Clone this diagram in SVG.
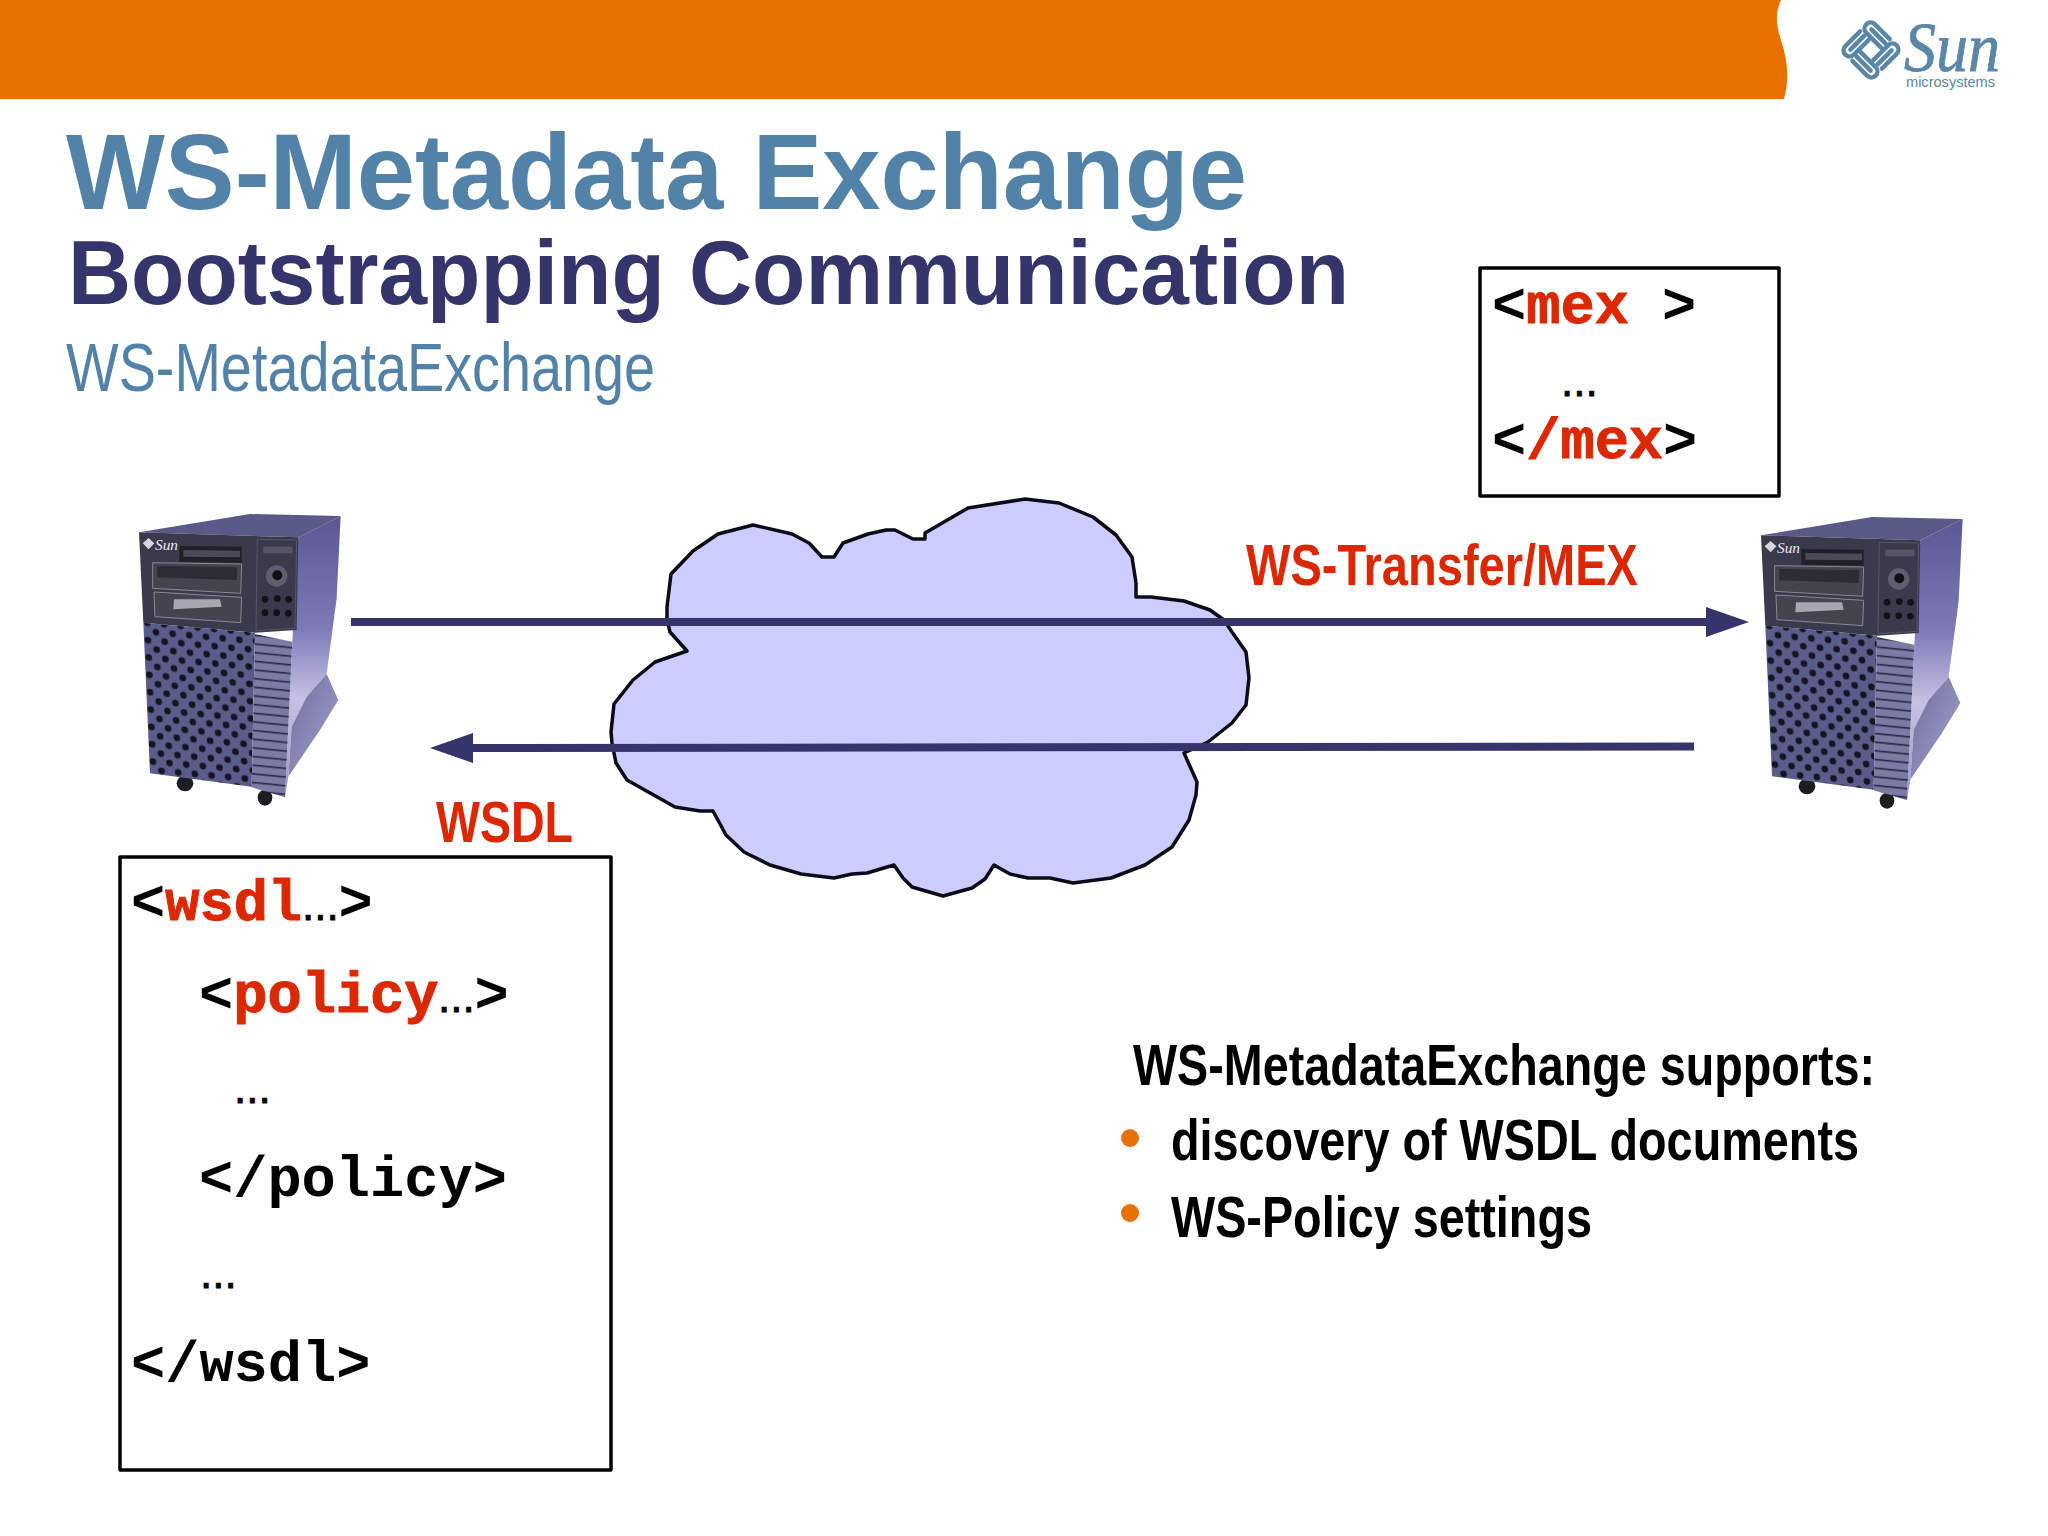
<svg xmlns="http://www.w3.org/2000/svg" xmlns:xlink="http://www.w3.org/1999/xlink" width="2048" height="1536" viewBox="0 0 2048 1536">
<style>
.sans{font-family:"Liberation Sans",Arial,sans-serif}
.b{font-weight:700}
.mono{font-family:"Liberation Mono","Courier New",monospace;font-weight:700;font-size:57px;fill:#000}
.dots{font-family:"Liberation Sans",Arial,sans-serif;font-size:44px;fill:#000;stroke:#000;stroke-width:.8}
.red{fill:#dc2800;stroke:#dc2800;stroke-width:1}
.box{fill:#fff;stroke:#000;stroke-width:3.5;stroke-linejoin:round}
.lbl{font-family:"Liberation Sans",Arial,sans-serif;font-weight:700;font-size:58px;fill:#dc2800}
.sup{font-family:"Liberation Sans",Arial,sans-serif;font-weight:700;font-size:58px;fill:#000}
.conn{stroke:#35356b;stroke-width:8;fill:none}
.stripe{fill:none;stroke:#5a87a8;stroke-width:4;stroke-linecap:round}
</style>
<defs>
<marker id="head" markerUnits="userSpaceOnUse" markerWidth="44" markerHeight="30" refX="0" refY="15" orient="auto">
<path d="M0 0 L43 15 L0 30 Z" fill="#35356b"/>
</marker>
<pattern id="holes" width="50" height="52" patternUnits="userSpaceOnUse" patternTransform="matrix(1 .09 .04 1 108 397)">
<rect x="-1" y="-1" width="52" height="54" fill="#5a5c8c"/>
<circle cx="0" cy="0" r="10" fill="#15151f"/><circle cx="50" cy="0" r="10" fill="#15151f"/><circle cx="0" cy="52" r="10" fill="#15151f"/><circle cx="50" cy="52" r="10" fill="#15151f"/>
<circle cx="25" cy="26" r="10" fill="#15151f"/>
</pattern>
<pattern id="vents" width="120" height="26" patternUnits="userSpaceOnUse" patternTransform="matrix(1 .1 0 1 400 412)">
<rect width="120" height="26" fill="#7a7ca6"/>
<rect y="17" width="120" height="5" fill="#2a2a44"/>
</pattern>
<linearGradient id="side" x1="0" y1="0" x2="0" y2="1"><stop offset="0" stop-color="#5a5794"/><stop offset=".4" stop-color="#7e7ab8"/><stop offset=".65" stop-color="#c4c2e4"/><stop offset="1" stop-color="#9a98c4"/></linearGradient>
<linearGradient id="foot" x1="0" y1="0" x2="1" y2="1"><stop offset="0" stop-color="#6f6c98"/><stop offset="1" stop-color="#a4a3d0"/></linearGradient>
<g id="server">
<ellipse cx="195" cy="850" rx="25" ry="24" fill="#1d1d24"/>
<ellipse cx="435" cy="893" rx="22" ry="24" fill="#1d1d24"/>
<path d="M57 97 L390 42 L662 48 L535 112 Z" fill="#5a5a88"/>
<path d="M535 112 L662 48 L650 295 L620 522 L560 590 L515 680 L505 830 L495 892 L517 425 Z" fill="url(#side)"/>
<path d="M620 522 L655 600 L600 690 L505 830 L515 680 L560 590 Z" fill="url(#foot)"/>
<path d="M57 97 L535 112 L530 390 L405 398 L70 368 Z" fill="#3a3a4c"/>
<path d="M70 368 L405 398 L395 860 L90 820 Z" fill="url(#holes)"/>
<path d="M405 402 L517 425 L495 892 L395 862 Z" fill="url(#vents)"/>
<path d="M178 138 L365 140 L365 188 L178 185 Z" fill="#202029"/>
<path d="M190 150 L360 152 L360 172 L190 170 Z" fill="#4a4a58"/>
<path d="M98 188 L365 192 L362 280 L98 265 Z" fill="#44444f" stroke="#8a8a94" stroke-width="3"/>
<path d="M112 198 L352 202 L350 240 L112 232 Z" fill="#2c2c36"/>
<path d="M102 276 L365 292 L362 368 L105 350 Z" fill="#44444f" stroke="#8a8a94" stroke-width="3"/>
<path d="M162 298 L300 298 L305 320 L160 328 Z" fill="#a7a7b2"/>
<circle cx="470" cy="228" r="32" fill="#5e5e70"/><circle cx="472" cy="226" r="15" fill="#0f0f14"/>
<circle cx="435" cy="298" r="10" fill="#111118"/><circle cx="472" cy="296" r="10" fill="#111118"/><circle cx="506" cy="298" r="10" fill="#111118"/>
<circle cx="435" cy="338" r="10" fill="#111118"/><circle cx="470" cy="338" r="10" fill="#111118"/><circle cx="505" cy="340" r="10" fill="#111118"/>
<path d="M412 118 L530 120 L525 385 L408 392 Z" fill="none" stroke="#55556a" stroke-width="3"/>
<rect x="430" y="140" width="88" height="20" fill="#55556a"/>
<path d="M68 130 L86 114 L103 130 L86 148 Z" fill="#d5d5e0"/>
<text x="105" y="150" font-family="'Liberation Serif',serif" font-style="italic" font-size="46" fill="#e8e8f0">Sun</text>
</g>
<g id="u"><path class="stripe" d="M5 -19 H-14 a5.5 5.5 0 0 0 0 11 H5"/><path class="stripe" d="M5 -13.5 H-13"/></g>
</defs>

<rect width="2048" height="1536" fill="#fff"/>

<g id="banner">
<path d="M0 0 H1781 C1775 12 1776 26 1781 40 C1787 58 1790 78 1784 99 H0 Z" fill="#e87000"/>
</g>

<g id="sun-logo">
<g transform="translate(1871 50) rotate(45) scale(1.1)">
<use xlink:href="#u" href="#u"/>
<use xlink:href="#u" href="#u" transform="rotate(90)"/>
<use xlink:href="#u" href="#u" transform="rotate(180)"/>
<use xlink:href="#u" href="#u" transform="rotate(270)"/>
</g>
<text x="1904" y="71" font-family="'Liberation Serif',serif" font-style="italic" font-size="70" fill="#5a87a8" stroke="#5a87a8" stroke-width=".8" textLength="96" lengthAdjust="spacingAndGlyphs">Sun</text>
<text x="1906" y="87" class="sans" font-size="15" fill="#5a87a8" textLength="89" lengthAdjust="spacingAndGlyphs">microsystems</text>
</g>

<g id="titles">
<text x="66" y="209" class="sans b" font-size="108" fill="#5382a8" textLength="1181" lengthAdjust="spacingAndGlyphs">WS-Metadata Exchange</text>
<text x="68" y="304" class="sans b" font-size="90" fill="#35356b" textLength="1281" lengthAdjust="spacingAndGlyphs">Bootstrapping Communication</text>
<text x="66" y="391" class="sans" font-size="68" fill="#5382a8" textLength="589" lengthAdjust="spacingAndGlyphs">WS-MetadataExchange</text>
</g>

<g id="mex-box">
<rect class="box" x="1480" y="268" width="299" height="228"/>
<text x="1492" y="323" class="mono">&lt;<tspan class="red">mex</tspan></text>
<text x="1662" y="323" class="mono">&gt;</text>
<text x="1561" y="396" class="dots">...</text>
<text x="1492" y="458" class="mono">&lt;<tspan class="red">/mex</tspan>&gt;</text>
</g>

<g id="server-left"><use xlink:href="#server" href="#server" transform="translate(120 500) scale(.3333)"/></g>
<g id="server-right"><use xlink:href="#server" href="#server" transform="translate(1742 503) scale(.3333)"/></g>

<g id="cloud">
<polygon fill="#ccccff" stroke="#0c0c18" stroke-width="3.5" stroke-linejoin="round" points="753,525 792,534 809,543 822,557 834,557 843,543 868,534 886,530 895,530 913,539 925,539 925,533 968,508 1025,499 1059,503 1093,517 1116,535 1132,557 1136,583 1136,597 1151,597 1184,601 1210,610 1224,620 1232,632 1246,652 1249,678 1246,705 1232,723 1208,742 1184,753 1197,782 1196,795 1189,820 1172,847 1145,865 1111,878 1073,883 1050,878 1028,878 1010,874 994,865 985,879 972,888 943,896 912,887 903,878 894,865 867,873 852,874 834,878 801,874 770,865 744,852 726,835 713,811 700,811 675,807 627,780 616,763 612,743 611,732 614,704 633,680 655,662 687,651 670,632 667,620 667,607 671,574 693,551 718,534"/>
</g>

<g id="connectors">
<line class="conn" x1="351" y1="622" x2="1706" y2="622" marker-end="url(#head)"/>
<line class="conn" x1="1694" y1="746.5" x2="473" y2="748" marker-end="url(#head)"/>
</g>

<g id="labels">
<text x="1246" y="585" class="lbl" textLength="392" lengthAdjust="spacingAndGlyphs">WS-Transfer/MEX</text>
<text x="436" y="842" class="lbl" textLength="137" lengthAdjust="spacingAndGlyphs">WSDL</text>
</g>

<g id="wsdl-box">
<rect class="box" x="120" y="857" width="491" height="613"/>
<text x="131" y="920" class="mono">&lt;<tspan class="red">wsdl</tspan></text>
<text x="302" y="920" class="dots">...</text>
<text x="338.500" y="920" class="mono">&gt;</text>
<text x="199" y="1012" class="mono">&lt;<tspan class="red">policy</tspan></text>
<text x="438" y="1012" class="dots">...</text>
<text x="474.500" y="1012" class="mono">&gt;</text>
<text x="234" y="1103" class="dots">...</text>
<text x="199" y="1196" class="mono">&lt;/policy&gt;</text>
<text x="200" y="1288" class="dots">...</text>
<text x="131" y="1381" class="mono">&lt;/wsdl&gt;</text>
</g>

<g id="supports">
<text x="1133" y="1085" class="sup" textLength="742" lengthAdjust="spacingAndGlyphs">WS-MetadataExchange supports:</text>
<circle cx="1130" cy="1138" r="9" fill="#e87000"/>
<text x="1171" y="1160" class="sup" textLength="688" lengthAdjust="spacingAndGlyphs">discovery of WSDL documents</text>
<circle cx="1130" cy="1213" r="9" fill="#e87000"/>
<text x="1171" y="1237" class="sup" textLength="421" lengthAdjust="spacingAndGlyphs">WS-Policy settings</text>
</g>
</svg>
